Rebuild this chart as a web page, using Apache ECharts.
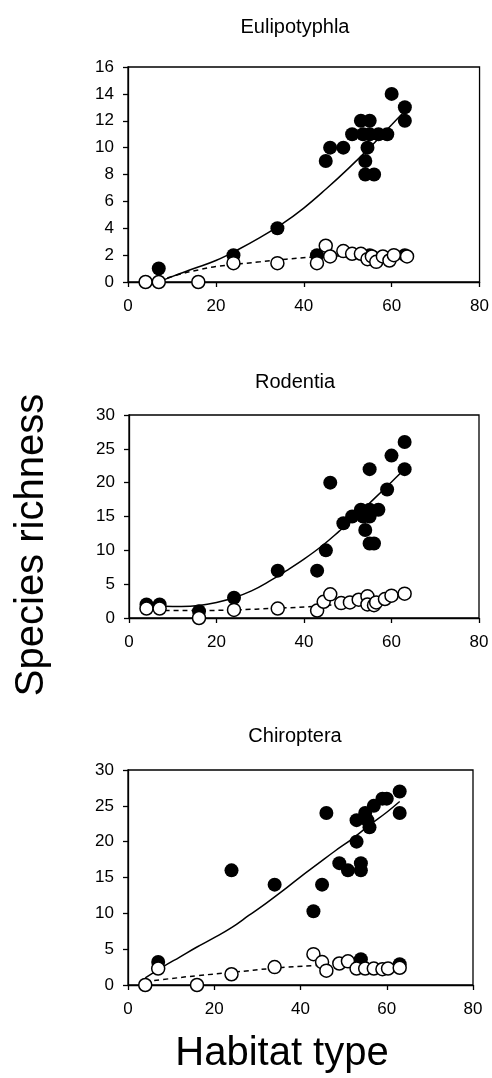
<!DOCTYPE html>
<html><head><meta charset="utf-8">
<script src="https://cdn.jsdelivr.net/npm/echarts@6/dist/echarts.min.js"></script>
<style>html,body{margin:0;padding:0;background:#fff}#c{width:492px;height:1078px}</style>
</head><body><div id="c"></div><script>
const panelTitles = ['Eulipotyphla', 'Rodentia', 'Chiroptera'];
const xAxisTitle = 'Habitat type';
const yAxisTitle = 'Species richness';
const xMin = 0, xMax = 80, xStep = 20;
const yMaxes = [16, 30, 30];
const ySteps = [2, 5, 5];

// Eulipotyphla
const euliFilled = [[7,1],[24,2],[34,4],[43,2],[45,9],[46,10],[49,10],[51,11],[53,12],[55,12],[53.5,11],[55,11],[57,11],[59,11],[54.5,10],[54,9],[54,8],[56,8],[60,14],[63,13],[63,12],[55,2],[63,2]];
const euliOpen = [[4,0],[7,0],[16,0],[24,1.4],[34,1.4],[43,1.4],[45,2.7],[46,1.9],[49,2.3],[51,2.1],[53,2.1],[54.5,1.7],[55.5,1.9],[56.5,1.5],[58,1.9],[59.5,1.6],[60.5,2.0],[63.5,1.9]];
const euliFitFilled = [[7,0],[10,0.4],[15,1.0],[20,1.6],[25,2.4],[30,3.3],[35,4.3],[40,5.5],[45,6.9],[50,8.4],[55,10.0],[60,11.7],[63.5,12.9]];
const euliFitOpen = [[7,0.1],[12,0.6],[16,0.9],[20,1.15],[24,1.3],[30,1.5],[36,1.7],[42,1.85],[50,1.95],[57,1.95],[63,1.95]];

// Rodentia
const rodeFilled = [[4,2],[7,2],[16,1],[24,3],[34,7],[43,7],[45,10],[46,20],[49,14],[51,15],[53,16],[53.5,15],[54,13],[55,16],[55,22],[55,15],[55,11],[56,11],[57,16],[59,19],[60,24],[63,26],[63,22]];
const rodeOpen = [[4,1.4],[7,1.4],[16,0],[24,1.2],[34,1.4],[43,1.1],[44.5,2.4],[46,3.5],[48.5,2.2],[50.5,2.3],[52.5,2.7],[54.5,3.2],[54.5,2.0],[56,1.9],[56.5,2.3],[58.5,2.8],[60,3.3],[63,3.6]];
const rodeFitFilled = [[4,1.9],[8,1.75],[12,1.7],[16,1.85],[20,2.3],[24,3.0],[28,4.0],[32,5.4],[36,7.0],[40,8.7],[44,10.6],[48,12.8],[52,15.1],[56,17.6],[60,20.1],[63,22]];
const rodeFitOpen = [[4,1.2],[10,1.1],[16,1.1],[24,1.2],[34,1.45],[43,1.75],[50,2.2],[56,2.7],[63,3.5]];

// Chiroptera
const chirFilled = [[7,3.2],[24,16],[34,14],[43,10.3],[45,14],[46,24],[49,17],[51,16],[53,20],[53,23],[54,17],[54,16],[55,24],[55.5,23],[56,22],[57,25],[59,26],[60,26],[63,27],[63,24],[54,3.6],[63,2.9]];
const chirOpen = [[4,0],[7,2.3],[16,0],[24,1.5],[34,2.5],[43,4.3],[45,3.2],[46,2.0],[49,3.0],[51,3.3],[53,2.3],[55,2.3],[57,2.3],[59,2.2],[60.3,2.3],[63,2.4]];
const chirFitFilled = [[4,1.0],[8,2.5],[12,3.9],[16,5.3],[20,6.6],[24,8.0],[28,9.7],[32,11.4],[36,13.2],[40,15.1],[44,16.9],[48,18.7],[52,20.4],[56,22.3],[60,24.1],[63,25.6]];
const chirFitOpen = [[4,0.5],[10,0.9],[16,1.3],[24,1.75],[34,2.35],[43,2.7],[50,2.85],[57,2.85],[63,2.75]];

const filledSets = [euliFilled, rodeFilled, chirFilled];
const openSets = [euliOpen, rodeOpen, chirOpen];
const fitFilledSets = [euliFitFilled, rodeFitFilled, chirFitFilled];
const fitOpenSets = [euliFitOpen, rodeFitOpen, chirFitOpen];

const FONT = 'Liberation Sans, Arial, sans-serif';
const grids = [
  {left: 128, top: 67, width: 355, height: 215},
  {left: 129, top: 415, width: 350, height: 203},
  {left: 128, top: 770, width: 345, height: 215}
];
const titleTops = [12, 367, 721];

const chart = echarts.init(document.getElementById('c'), null, {renderer: 'canvas'});
const option = {
  backgroundColor: '#fff',
  animation: false,
  title: panelTitles.map((t, i) => ({
    text: t, left: 290, top: titleTops[i], textAlign: 'center',
    textStyle: {fontFamily: FONT, fontSize: 20, fontWeight: 'normal', color: '#000'}
  })),
  grid: grids.map(g => Object.assign({show: true, borderColor: '#000', borderWidth: 1.3, backgroundColor: 'transparent'}, g)),
  xAxis: grids.map((g, i) => ({
    type: 'value', gridIndex: i, min: xMin, max: xMax, interval: xStep,
    axisLine: {show: true, onZero: false, lineStyle: {color: '#000', width: 1.3}},
    axisTick: {show: true, inside: false, length: 5, lineStyle: {color: '#000', width: 1.3}},
    axisLabel: {color: '#000', fontSize: 17, fontFamily: FONT, margin: 16},
    splitLine: {show: false}
  })),
  yAxis: grids.map((g, i) => ({
    type: 'value', gridIndex: i, min: 0, max: yMaxes[i], interval: ySteps[i],
    axisLine: {show: true, onZero: false, lineStyle: {color: '#000', width: 1.3}},
    axisTick: {show: true, inside: false, length: 5, lineStyle: {color: '#000', width: 1.3}},
    axisLabel: {color: '#000', fontSize: 17, fontFamily: FONT, margin: 14},
    splitLine: {show: false}
  })),
  graphic: [
    {type: 'text', x: 282, y: 1054, style: {text: xAxisTitle, font: '40px ' + FONT, fill: '#000', textAlign: 'center', textVerticalAlign: 'middle'}},
    {type: 'text', x: 32, y: 545, rotation: Math.PI / 2, style: {text: yAxisTitle, font: '40px ' + FONT, fill: '#000', textAlign: 'center', textVerticalAlign: 'middle'}}
  ],
  series: []
};
for (let i = 0; i < 3; i++) {
  option.series.push({
    type: 'line', xAxisIndex: i, yAxisIndex: i, data: fitFilledSets[i], smooth: 0.4,
    showSymbol: false, symbol: 'none', lineStyle: {color: '#000', width: 1.5}, z: 2, silent: true
  });
  option.series.push({
    type: 'line', xAxisIndex: i, yAxisIndex: i, data: fitOpenSets[i], smooth: 0.4,
    showSymbol: false, symbol: 'none', lineStyle: {color: '#000', width: 1.5, type: [5, 4]}, z: 2, silent: true
  });
  option.series.push({
    type: 'scatter', xAxisIndex: i, yAxisIndex: i, data: filledSets[i], symbol: 'circle', symbolSize: 14,
    itemStyle: {color: '#000', opacity: 1}, z: 3
  });
  option.series.push({
    type: 'scatter', xAxisIndex: i, yAxisIndex: i, data: openSets[i], symbol: 'circle', symbolSize: 13,
    itemStyle: {color: '#fff', borderColor: '#000', borderWidth: 1.5, opacity: 1}, z: 4
  });
}
chart.setOption(option);
</script></body></html>
